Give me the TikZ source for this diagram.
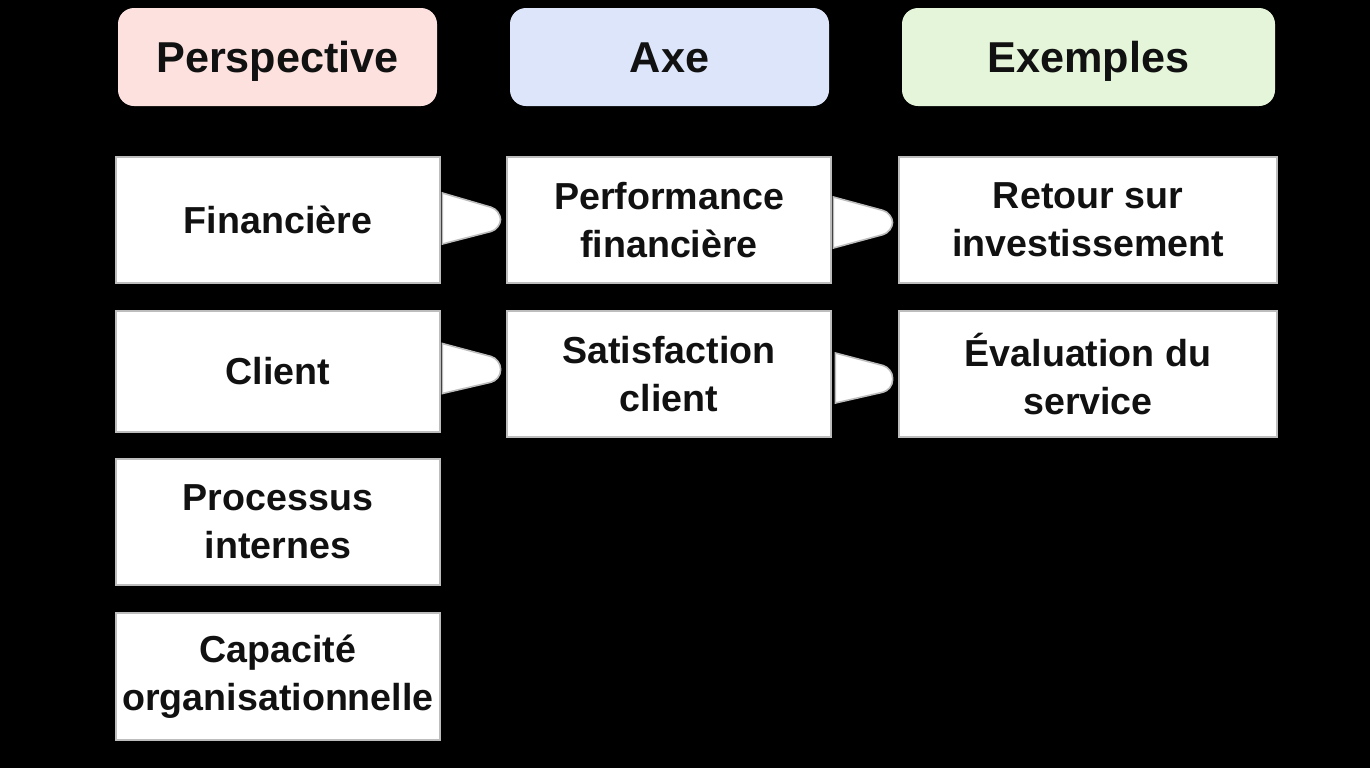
\documentclass[tikz,border=0pt]{standalone}
\usepackage{fontspec}
\setmainfont{Liberation Sans}
\usetikzlibrary{calc}
\definecolor{hpink}{HTML}{FCE1DF}
\definecolor{hblue}{HTML}{DDE5FA}
\definecolor{hgreen}{HTML}{E5F5D9}
\definecolor{bordergray}{HTML}{BDBDBD}
\definecolor{txt}{HTML}{111111}
\tikzset{
  header/.style={rounded corners=8pt, minimum height=49pt, inner sep=0pt,
    text height=16pt, text depth=1pt,
    font=\fontsize{21.6}{25}\selectfont\bfseries, text=txt},
  cell/.style={fill=white, draw=bordergray, line width=1.4pt, minimum height=63pt,
    inner sep=0pt, align=center, font=\fontsize{18.8}{24}\selectfont\bfseries, text=txt},
  conn/.style={fill=white, draw=bordergray, line width=0.8pt}
}
\begin{document}
\begin{tikzpicture}[x=0.5pt,y=-0.5pt]
\fill[black] (0,0) rectangle (1370,768);
\useasboundingbox (0,0) rectangle (1370,768);
% headers
\node[header, fill=hpink, minimum width=159.5pt] (h1) at (277.5,57) {Perspective};
\node[header, fill=hblue, minimum width=159.5pt] (h2) at (669.5,57) {Axe};
\node[header, fill=hgreen, minimum width=186.5pt] (h3) at (1088.5,57) {Exemples};
% column 1
\node[cell, minimum width=162pt] (p1) at (278,220) {Financière};
\node[cell, minimum width=162pt, minimum height=60.5pt] (p2) at (278,371.5) {Client};
\node[cell, minimum width=162pt] (p3) at (278,522) {Processus\\internes};
\node[cell, minimum width=162pt, minimum height=63.5pt] (p4) at (278,676.5) {Capacité\\organisationnelle};
% column 2
\node[cell, minimum width=162pt] (a1) at (669,220) {Performance\\financière};
\node[cell, minimum width=162pt] (a2) at (669,374) {Satisfaction\\client};
% column 3
\node[cell, minimum width=189pt] (e1) at (1088,220) {Retour sur\\investissement};
\node[cell, minimum width=189pt] (e2) at (1088,374) {Évaluation du\\service};
% connectors
\draw[conn] ($(p1.east)+(1,-27)$) [rounded corners=5pt] -- ($(a1.west)+(-5,-10)$) -- ($(a1.west)+(-5,9)$) [sharp corners] -- ($(p1.east)+(1,24)$) -- cycle;
\draw[conn] ($(a1.east)+(1,-23)$) [rounded corners=5pt] -- ($(e1.west)+(-5,-7)$) -- ($(e1.west)+(-5,12)$) [sharp corners] -- ($(a1.east)+(1,28)$) -- cycle;
\draw[conn] ($(p2.east)+(1,-28)$) [rounded corners=5pt] -- ($(a2.west)+(-5,-15)$) -- ($(a2.west)+(-5,6)$) [sharp corners] -- ($(p2.east)+(1,22)$) -- cycle;
\draw[conn] ($(a2.east)+(3,-21)$) [rounded corners=5pt] -- ($(e2.west)+(-5,-6)$) -- ($(e2.west)+(-5,16)$) [sharp corners] -- ($(a2.east)+(3,29)$) -- cycle;
\end{tikzpicture}
\end{document}
